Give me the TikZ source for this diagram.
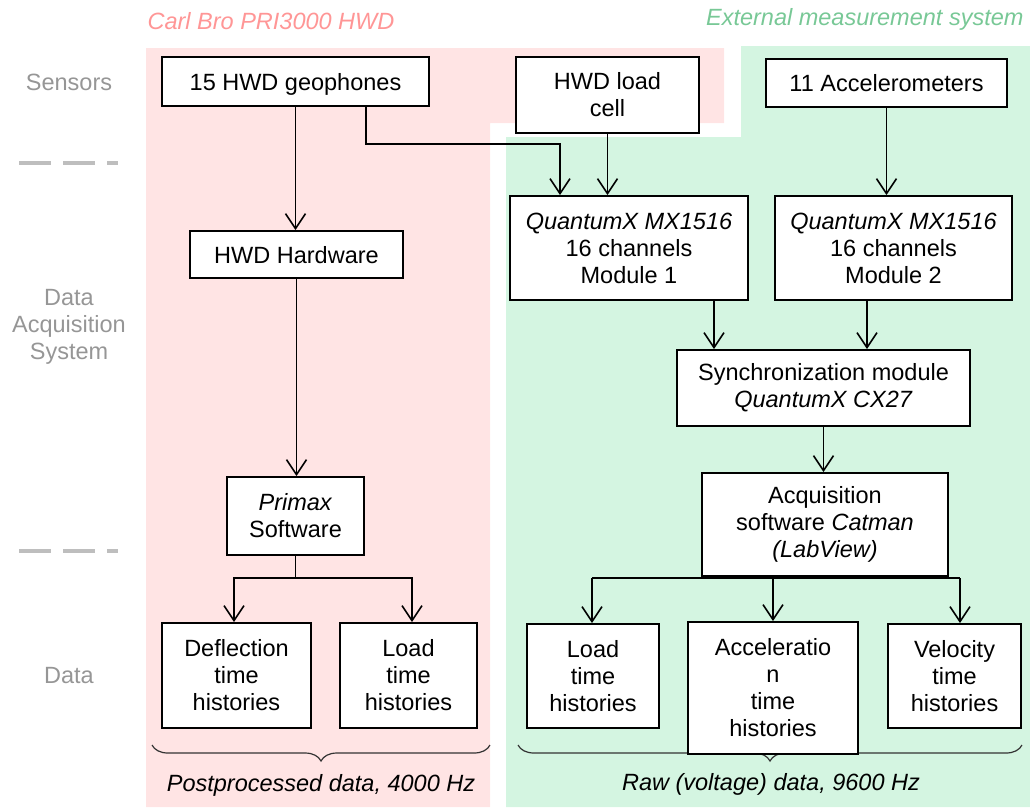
\documentclass[tikz,border=0pt]{standalone}
\usepackage{fontspec}
\setmainfont{Liberation Sans}
\usetikzlibrary{arrows.meta,decorations.pathreplacing,calc}
\definecolor{pinkbg}{RGB}{255,228,228}
\definecolor{greenbg}{RGB}{212,245,225}
\definecolor{pinktxt}{RGB}{255,150,150}
\definecolor{greentxt}{RGB}{120,200,150}
\definecolor{graytxt}{RGB}{150,150,150}
\definecolor{graydash}{RGB}{190,190,190}
\begin{document}
\begin{tikzpicture}[x=1pt,y=-1pt,
  every node/.style={font=\fontsize{23.5}{27}\selectfont},
  box/.style={draw=black, fill=white, line width=1.9pt, inner sep=0pt, align=center},
  one/.style={text depth=0pt},
  arr/.style={line width=1.8pt, -{Straight Barb[length=15pt,width=20pt,line width=1.6pt]}},
  ln/.style={line width=1.8pt},
  side/.style={text=graytxt, align=center},
  itl/.style={font=\fontsize{23.5}{27}\selectfont\itshape},
  brc/.style={decorate, decoration={brace, mirror, amplitude=16pt}, line width=1.2pt, draw=black!80},
  dsh/.style={draw=graydash, line width=4pt, dash pattern=on 32pt off 12pt}
]
\useasboundingbox (0,0) rectangle (1030,807);
% backgrounds
\fill[pinkbg] (146,48) -- (724,48) -- (724,123) -- (490,123) -- (490,807) -- (146,807) -- cycle;
\fill[greenbg] (741,46) -- (1030,46) -- (1030,807) -- (506,807) -- (506,137) -- (741,137) -- cycle;
% titles
\node[itl, text=pinktxt] (t1) at (271,21) {Carl Bro PRI3000 HWD};
\node[itl, text=greentxt, anchor=east] (t2) at (1027,19) {External measurement system};
% side labels
\node[side] (s1) at (69,82) {Sensors};
\node[side] (s2) at (69,327) {Data\\Acquisition\\System};
\node[side] (s3) at (69,676) {Data};
\coordinate (d1a) at (19,163); \coordinate (d1b) at (118,163);
\coordinate (d2a) at (19,551); \coordinate (d2b) at (118,551);
\draw[dsh] (d1a) -- (d1b);
\draw[dsh] (d2a) -- (d2b);
% braces
\coordinate (bl1) at (152,745); \coordinate (bl2) at (490,745);
\coordinate (br1) at (518,745); \coordinate (br2) at (1022,745);
\draw[brc] (bl1) -- (bl2);
\draw[brc] (br1) -- (br2);
\node[itl] (pp) at (321,785) {Postprocessed data, 4000 Hz};
\node[itl] (rw) at (771,784) {Raw (voltage) data, 9600 Hz};
% boxes
\node[box, one, minimum width=267pt, minimum height=49pt] (geo) at (295.5,81.5) {15 HWD geophones};
\node[box, minimum width=183pt, minimum height=76pt] (lc) at (607.5,95) {HWD load\\cell};
\node[box, one, minimum width=241pt, minimum height=48pt] (acc) at (886.5,83) {11 Accelerometers};
\node[box, minimum width=238pt, minimum height=104pt] (m1) at (629,248) {\textit{QuantumX MX1516}\\16 channels\\Module 1};
\node[box, minimum width=237pt, minimum height=104pt] (m2) at (893.5,248) {\textit{QuantumX MX1516}\\16 channels\\Module 2};
\node[box, one, minimum width=213pt, minimum height=47pt] (hw) at (296.5,254.5) {HWD Hardware};
\node[box, minimum width=293pt, minimum height=76pt] (sync) at (823.5,388) {Synchronization module\\\textit{QuantumX CX27}};
\node[box, minimum width=137pt, minimum height=78pt] (prim) at (295.5,516) {\textit{Primax}\\Software};
\node[box, minimum width=246pt, minimum height=103pt] (acq) at (825,524.5) {Acquisition\\software \textit{Catman}\\\textit{(LabView)}};
\node[box, minimum width=149pt, minimum height=105pt] (defl) at (236.5,675.5) {Deflection\\time\\histories};
\node[box, minimum width=137pt, minimum height=105pt] (loadL) at (408.5,675.5) {Load\\time\\histories};
\node[box, minimum width=132pt, minimum height=104pt] (loadR) at (593,676) {Load\\time\\histories};
\node[box, minimum width=170pt, minimum height=132pt] (accel) at (773,688) {Acceleratio\\n\\time\\histories};
\node[box, minimum width=133pt, minimum height=104pt] (vel) at (954.5,676) {Velocity\\time\\histories};
% connectors
\draw[arr] (geo.south) -- (geo.south |- hw.north);
\coordinate (j1) at (560,144);
\draw[arr] ([xshift=70.5pt]geo.south) |- (j1) -- (j1 |- m1.north);
\draw[arr] (lc.south) -- (lc.south |- m1.north);
\draw[arr] (acc.south) -- (acc.south |- m2.north);
\draw[arr] ([xshift=85pt]m1.south) -- ([xshift=85pt]m1.south |- sync.north);
\draw[arr] ([xshift=-26.5pt]m2.south) -- ([xshift=-26.5pt]m2.south |- sync.north);
\draw[arr] (sync.south) -- (sync.south |- acq.north);
\draw[arr] (hw.south) -- (hw.south |- prim.north);
\coordinate (pL) at (234,578); \coordinate (pR) at (412,578);
\draw[arr] (prim.south) |- (pL) -- (pL |- defl.north);
\draw[arr] (prim.south) |- (pR) -- (pR |- loadL.north);
\coordinate (aL) at (592,578); \coordinate (aM) at (773,578); \coordinate (aR) at (960,578);
\draw[ln] (aL) -- (aR);
\draw[arr] (aL) -- (aL |- loadR.north);
\draw[arr] (aM |- acq.south) -- (aM |- accel.north);
\draw[arr] (aR) -- (aR |- vel.north);
\end{tikzpicture}
\end{document}
